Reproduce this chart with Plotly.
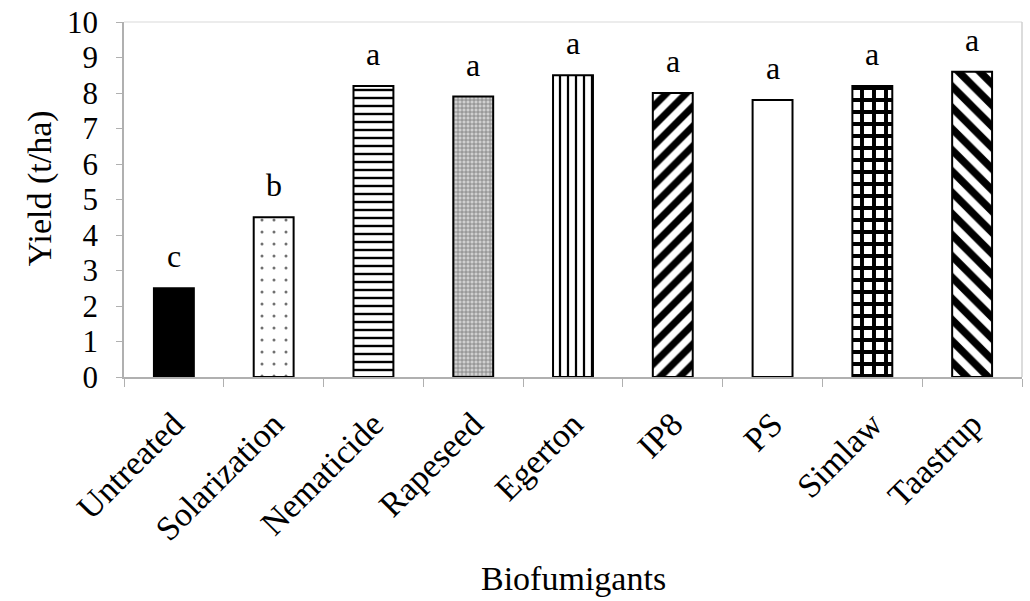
import plotly.graph_objects as go

categories = ["Untreated", "Solarization", "Nematicide", "Rapeseed", "Egerton",
              "IP8", "PS", "Simlaw", "Taastrup"]
yields = [2.5, 4.5, 8.2, 7.9, 8.5, 8.0, 7.8, 8.2, 8.6]
letters = ["c", "b", "a", "a", "a", "a", "a", "a", "a"]
x_title = "Biofumigants"
y_title = "Yield (t/ha)"

shapes = ["", ".", "-", "+", "|", "/", "", "+", "\\"]
fg = ["#000000", "#707070", "#000000", "#7a7a7a", "#000000", "#000000", "#000000", "#000000", "#000000"]
bg = ["#000000", "#ffffff", "#ffffff", "#d0d0d0", "#ffffff", "#ffffff", "#ffffff", "#ffffff", "#ffffff"]
sizes = [8, 12, 8, 4, 8, 14, 8, 12, 15]
solid = [0.3, 0.05, 0.3, 0.35, 0.28, 0.5, 0.3, 0.55, 0.5]

font = "Liberation Serif, Times New Roman, serif"

fig = go.Figure()
for i, cat in enumerate(categories):
    fig.add_trace(go.Bar(
        x=[cat], y=[yields[i]], name=cat,
        marker=dict(color=bg[i], line=dict(color="#000000", width=2),
                    pattern=dict(shape=shapes[i], fgcolor=fg[i], fgopacity=1,
                                 size=sizes[i], solidity=solid[i], fillmode="overlay")),
    ))
    fig.add_annotation(x=cat, y=yields[i], text=letters[i], showarrow=False,
                       yanchor="bottom", yshift=12,
                       font=dict(family=font, size=32, color="black"))

fig.update_layout(
    width=1030, height=601,
    margin=dict(l=124, r=8, t=22, b=224),
    plot_bgcolor="white", paper_bgcolor="white",
    bargap=0.6, barmode="overlay", showlegend=False,
    font=dict(family=font, size=30, color="black"),
)
fig.update_xaxes(
    categoryorder="array", categoryarray=categories, automargin=False,
    showline=True, linecolor="#b0b0b0", linewidth=1.5,
    ticks="outside", tickson="boundaries", ticklen=8, tickcolor="#b0b0b0",
    tickangle=-45, ticklabelstandoff=12,
    tickfont=dict(family=font, size=34, color="black"),
)
fig.update_yaxes(
    range=[0, 10], dtick=1, showgrid=False, zeroline=False, automargin=False,
    showline=True, linecolor="#b0b0b0", linewidth=1.5,
    ticks="outside", ticklen=6, tickcolor="#b0b0b0", ticklabelstandoff=12,
    tickfont=dict(family=font, size=31, color="black"),
)
# axis titles
fig.add_annotation(text=x_title, xref="paper", yref="paper", x=0.5, y=-0.569,
                   xanchor="center", yanchor="middle", showarrow=False,
                   font=dict(family=font, size=34, color="black"))
fig.add_annotation(text=y_title, xref="paper", yref="paper", x=0, y=0.532,
                   xshift=-84, xanchor="center", yanchor="middle", textangle=-90,
                   showarrow=False, font=dict(family=font, size=34, color="black"))
# light plot-area border on top and right
fig.add_shape(type="line", xref="paper", yref="paper", x0=0, x1=1, y0=1, y1=1,
              line=dict(color="#e6e6e6", width=1.5))
fig.add_shape(type="line", xref="paper", yref="paper", x0=1, x1=1, y0=0, y1=1,
              line=dict(color="#d0d0d0", width=1.5))

fig.write_html("out.html", config={"displayModeBar": False},
               post_script="document.body.style.margin='0';document.body.style.overflow='hidden';")
